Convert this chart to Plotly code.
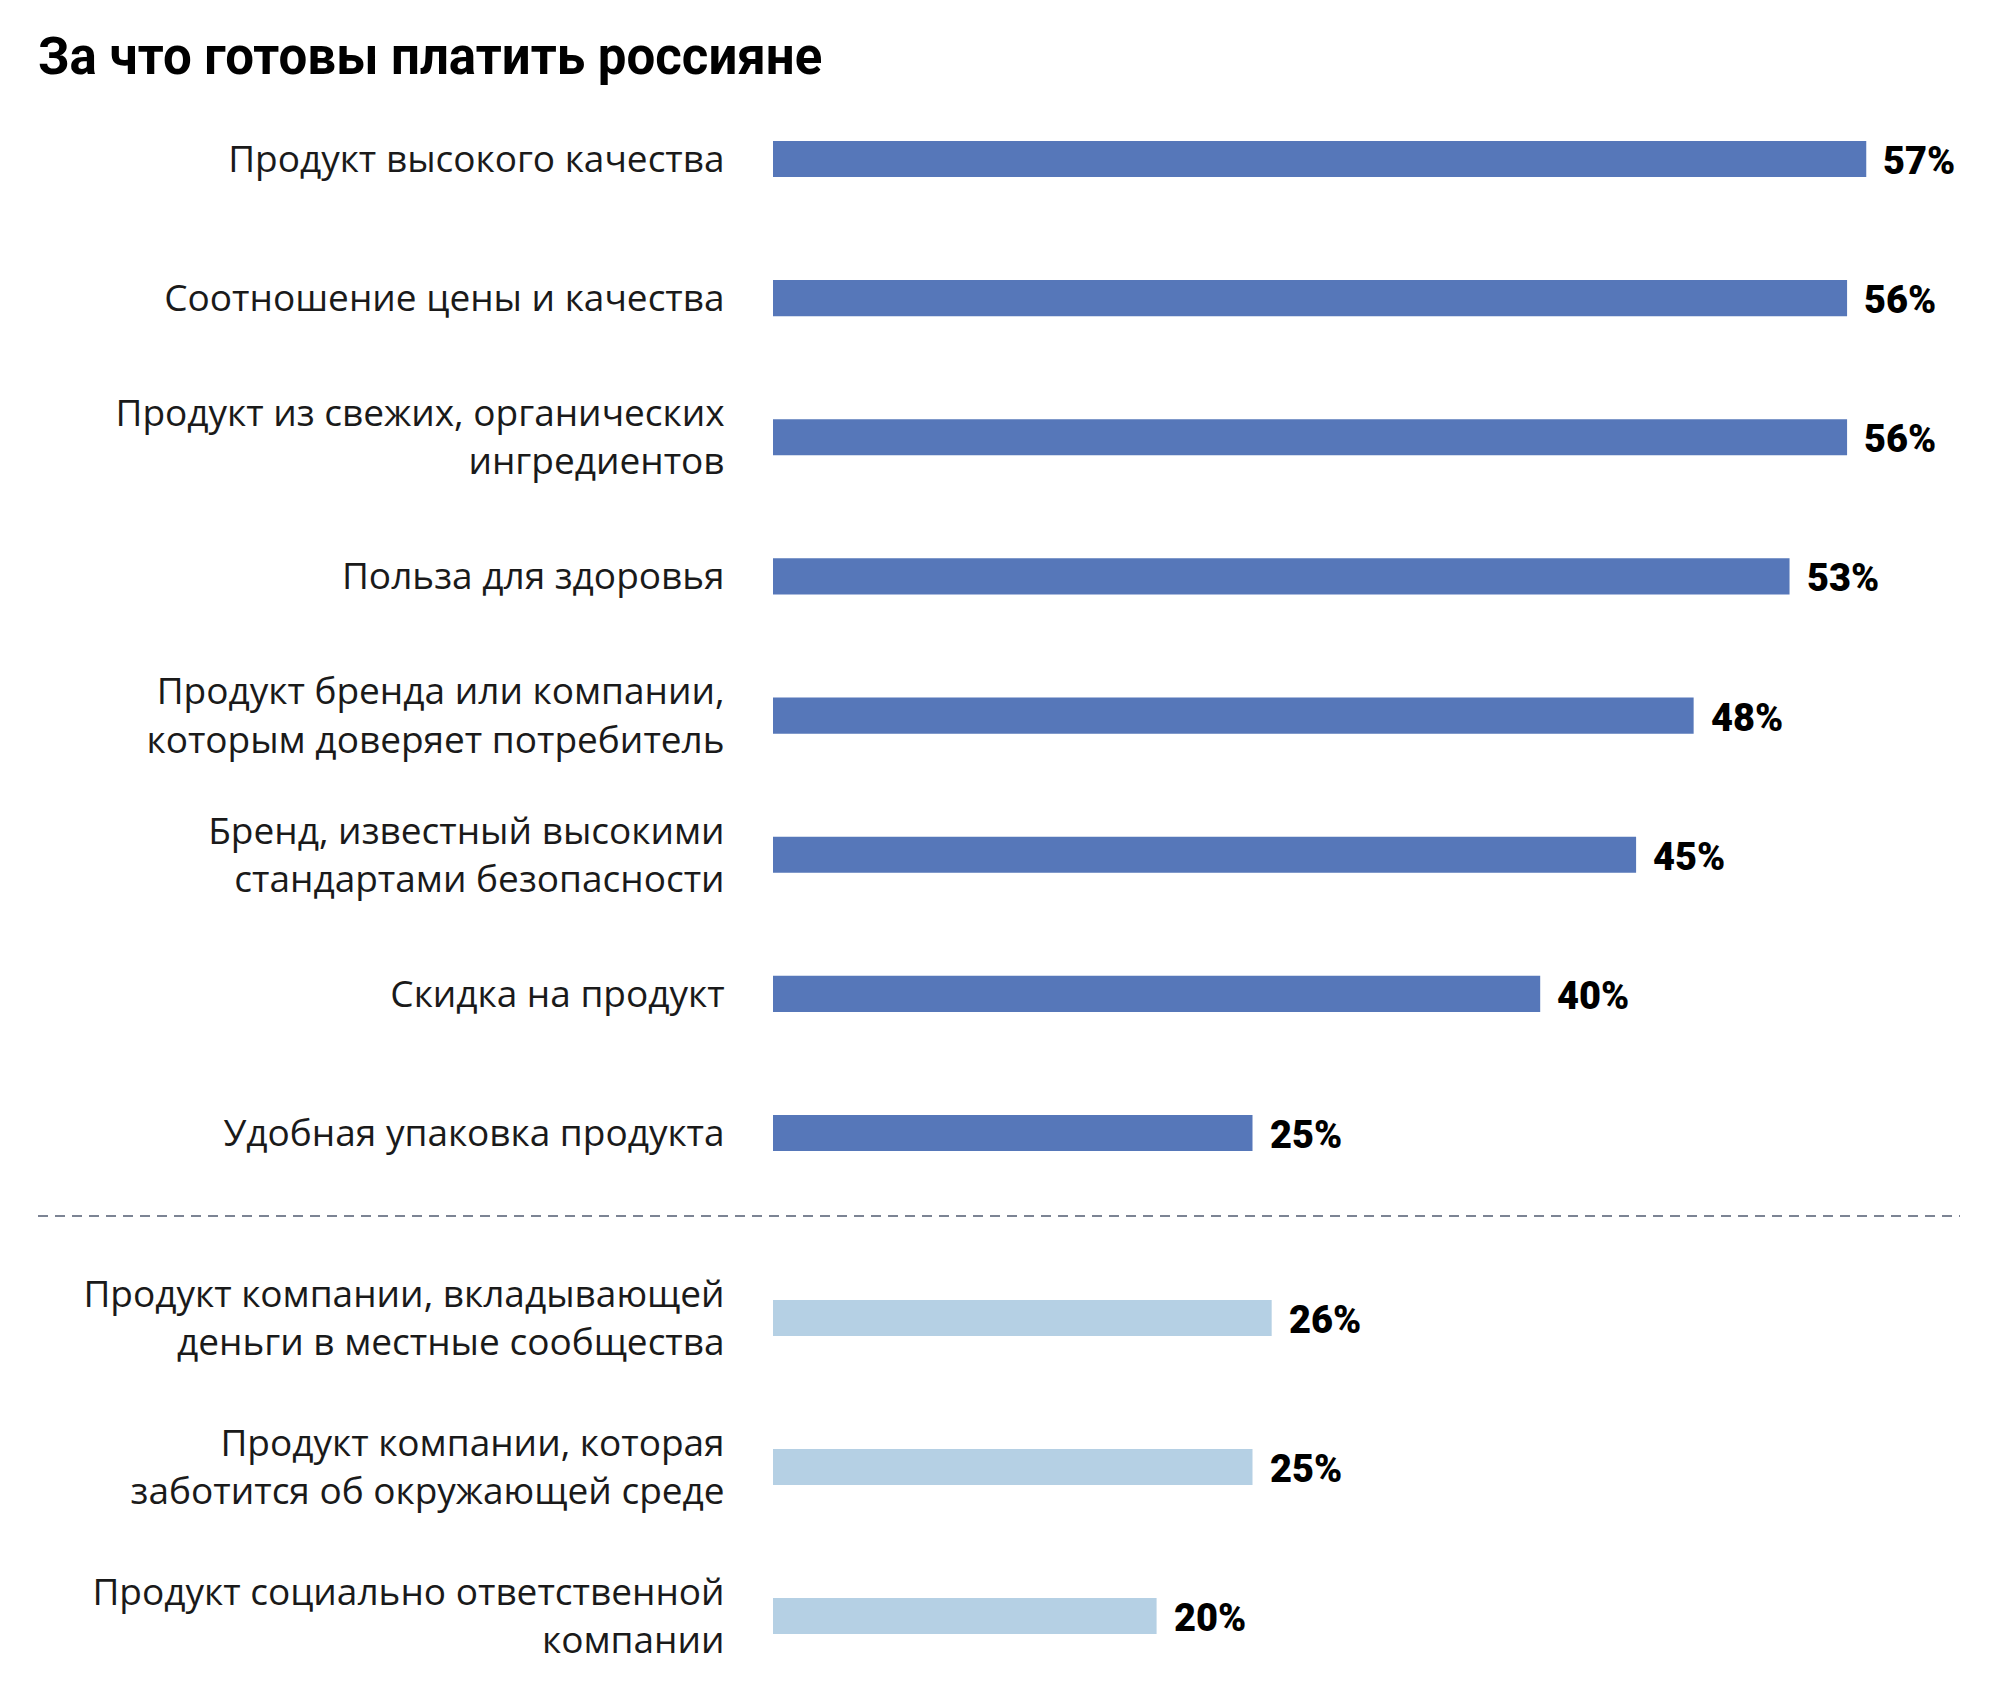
import plotly.graph_objects as go

title = "За что готовы платить россияне"

top_labels = [
    "Продукт высокого качества",
    "Соотношение цены и качества",
    "Продукт из свежих, органических<br>ингредиентов",
    "Польза для здоровья",
    "Продукт бренда или компании,<br>которым доверяет потребитель",
    "Бренд, известный высокими<br>стандартами безопасности",
    "Скидка на продукт",
    "Удобная упаковка продукта",
]
top_values = [57, 56, 56, 53, 48, 45, 40, 25]

bottom_labels = [
    "Продукт компании, вкладывающей<br>деньги в местные сообщества",
    "Продукт компании, которая<br>заботится об окружающей среде",
    "Продукт социально ответственной<br>компании",
]
bottom_values = [26, 25, 20]

W, H = 1996, 1704
LEFT = 773
PX_PER_UNIT = 19.18
XMAX = (W - LEFT) / PX_PER_UNIT

DARK = "#5677b9"
LIGHT = "#b5d0e4"
LABEL_FONT = dict(family="Open Sans", size=37, color="#1a1a1a")
VALUE_FONT = dict(family="Roboto", size=38, color="#000000", weight=900)

fig = go.Figure()
fig.add_trace(go.Bar(
    x=top_values, y=top_labels, orientation="h",
    marker=dict(color=DARK, line=dict(width=0)),
    width=0.26, xaxis="x", yaxis="y", hoverinfo="skip",
))
fig.add_trace(go.Bar(
    x=bottom_values, y=bottom_labels, orientation="h",
    marker=dict(color=LIGHT, line=dict(width=0)),
    width=0.24, xaxis="x2", yaxis="y2", hoverinfo="skip",
))

annotations = []
for lab, v in zip(top_labels, top_values):
    annotations.append(dict(x=v, y=lab, xref="x", yref="y", text=f"{v}%",
                            showarrow=False, xanchor="left", yanchor="middle",
                            xshift=15, yshift=-2, font=VALUE_FONT))
for lab, v in zip(bottom_labels, bottom_values):
    annotations.append(dict(x=v, y=lab, xref="x2", yref="y2", text=f"{v}%",
                            showarrow=False, xanchor="left", yanchor="middle",
                            xshift=15, yshift=-2, font=VALUE_FONT))

def py(pix):
    return 1 - pix / H

def px(pix):
    return (pix - LEFT) / (W - LEFT)

xaxis_common = dict(range=[0, XMAX], showgrid=False, zeroline=False,
                    showticklabels=False, showline=False, ticks="")
yaxis_common = dict(showgrid=False, zeroline=False, showline=False,
                    ticks="outside", ticklen=40, tickcolor="rgba(0,0,0,0)",
                    tickfont=LABEL_FONT, autorange="reversed")

fig.update_layout(
    width=W, height=H,
    margin=dict(l=LEFT, r=0, t=0, b=0),
    paper_bgcolor="white", plot_bgcolor="white",
    showlegend=False,
    title=dict(text=title, x=38 / W, xanchor="left", y=py(56), yanchor="middle",
               font=dict(family="Roboto", size=51, color="#000000", weight="bold")),
    xaxis=dict(domain=[0, 1], anchor="y", **xaxis_common),
    xaxis2=dict(domain=[0, 1], anchor="y2", **xaxis_common),
    yaxis=dict(domain=[py(1202.6), py(89.4)], anchor="x",
               categoryorder="array", categoryarray=top_labels, **yaxis_common),
    yaxis2=dict(domain=[py(1690.5), py(1243.5)], anchor="x2",
                categoryorder="array", categoryarray=bottom_labels, **yaxis_common),
    annotations=annotations,
    shapes=[dict(type="line", xref="paper", yref="paper",
                 x0=px(38), x1=px(1960), y0=py(1216), y1=py(1216),
                 line=dict(color="#7c8494", width=2, dash="10px,7px"))],
)

fig.write_html("out.html")
